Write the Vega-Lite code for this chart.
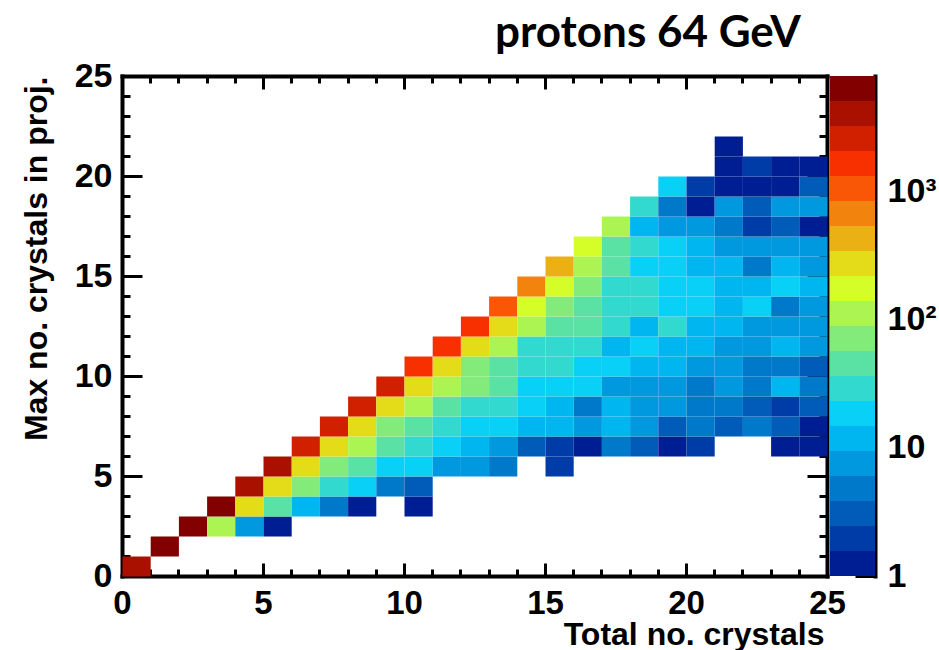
{
  "$schema": "https://vega.github.io/schema/vega-lite/v6.json",
  "background": "white",
  "padding": {"left": 20, "top": 12, "right": 0, "bottom": 0},
  "title": {"text": "protons 64 GeV", "font": "Lato", "fontSize": 44, "fontWeight": "bold", "color": "black", "anchor": "start", "frame": "group", "dx": 373, "baseline": "alphabetic", "offset": -32},
  "datasets": {
    "hist": [
      {"x":0,"y":0,"count":4050},
      {"x":1,"y":1,"count":6350},
      {"x":2,"y":2,"count":6350},{"x":3,"y":2,"count":112},{"x":4,"y":2,"count":7},{"x":5,"y":2,"count":1},
      {"x":3,"y":3,"count":6350},{"x":4,"y":3,"count":274},{"x":5,"y":3,"count":45},{"x":6,"y":3,"count":12},{"x":7,"y":3,"count":5},{"x":8,"y":3,"count":1},{"x":10,"y":3,"count":1},
      {"x":4,"y":4,"count":4050},{"x":5,"y":4,"count":274},{"x":6,"y":4,"count":71},{"x":7,"y":4,"count":29},{"x":8,"y":4,"count":18},{"x":9,"y":4,"count":5},{"x":10,"y":4,"count":3},
      {"x":5,"y":5,"count":4050},{"x":6,"y":5,"count":274},{"x":7,"y":5,"count":71},{"x":8,"y":5,"count":45},{"x":9,"y":5,"count":18},{"x":10,"y":5,"count":18},{"x":11,"y":5,"count":7},{"x":12,"y":5,"count":7},{"x":13,"y":5,"count":5},{"x":15,"y":5,"count":2},
      {"x":6,"y":6,"count":2600},{"x":7,"y":6,"count":274},{"x":8,"y":6,"count":112},{"x":9,"y":6,"count":45},{"x":10,"y":6,"count":29},{"x":11,"y":6,"count":18},{"x":12,"y":6,"count":12},{"x":13,"y":6,"count":7},{"x":14,"y":6,"count":3},{"x":15,"y":6,"count":2},{"x":16,"y":6,"count":1},{"x":17,"y":6,"count":5},{"x":18,"y":6,"count":3},{"x":19,"y":6,"count":1},{"x":20,"y":6,"count":2},{"x":23,"y":6,"count":1},{"x":24,"y":6,"count":1},
      {"x":7,"y":7,"count":2600},{"x":8,"y":7,"count":274},{"x":9,"y":7,"count":71},{"x":10,"y":7,"count":45},{"x":11,"y":7,"count":29},{"x":12,"y":7,"count":18},{"x":13,"y":7,"count":18},{"x":14,"y":7,"count":12},{"x":15,"y":7,"count":12},{"x":16,"y":7,"count":7},{"x":17,"y":7,"count":12},{"x":18,"y":7,"count":7},{"x":19,"y":7,"count":3},{"x":20,"y":7,"count":5},{"x":21,"y":7,"count":3},{"x":22,"y":7,"count":5},{"x":23,"y":7,"count":3},{"x":24,"y":7,"count":1},
      {"x":8,"y":8,"count":2600},{"x":9,"y":8,"count":274},{"x":10,"y":8,"count":112},{"x":11,"y":8,"count":45},{"x":12,"y":8,"count":29},{"x":13,"y":8,"count":29},{"x":14,"y":8,"count":18},{"x":15,"y":8,"count":12},{"x":16,"y":8,"count":5},{"x":17,"y":8,"count":12},{"x":18,"y":8,"count":7},{"x":19,"y":8,"count":7},{"x":20,"y":8,"count":5},{"x":21,"y":8,"count":5},{"x":22,"y":8,"count":3},{"x":23,"y":8,"count":2},{"x":24,"y":8,"count":3},
      {"x":9,"y":9,"count":2600},{"x":10,"y":9,"count":274},{"x":11,"y":9,"count":112},{"x":12,"y":9,"count":71},{"x":13,"y":9,"count":45},{"x":14,"y":9,"count":18},{"x":15,"y":9,"count":18},{"x":16,"y":9,"count":18},{"x":17,"y":9,"count":7},{"x":18,"y":9,"count":7},{"x":19,"y":9,"count":7},{"x":20,"y":9,"count":5},{"x":21,"y":9,"count":7},{"x":22,"y":9,"count":5},{"x":23,"y":9,"count":12},{"x":24,"y":9,"count":5},
      {"x":10,"y":10,"count":1650},{"x":11,"y":10,"count":274},{"x":12,"y":10,"count":71},{"x":13,"y":10,"count":45},{"x":14,"y":10,"count":29},{"x":15,"y":10,"count":29},{"x":16,"y":10,"count":18},{"x":17,"y":10,"count":18},{"x":18,"y":10,"count":12},{"x":19,"y":10,"count":12},{"x":20,"y":10,"count":7},{"x":21,"y":10,"count":7},{"x":22,"y":10,"count":5},{"x":23,"y":10,"count":5},{"x":24,"y":10,"count":3},
      {"x":11,"y":11,"count":1650},{"x":12,"y":11,"count":274},{"x":13,"y":11,"count":112},{"x":14,"y":11,"count":29},{"x":15,"y":11,"count":29},{"x":16,"y":11,"count":29},{"x":17,"y":11,"count":12},{"x":18,"y":11,"count":18},{"x":19,"y":11,"count":12},{"x":20,"y":11,"count":12},{"x":21,"y":11,"count":7},{"x":22,"y":11,"count":7},{"x":23,"y":11,"count":12},{"x":24,"y":11,"count":7},
      {"x":12,"y":12,"count":1650},{"x":13,"y":12,"count":274},{"x":14,"y":12,"count":112},{"x":15,"y":12,"count":45},{"x":16,"y":12,"count":45},{"x":17,"y":12,"count":29},{"x":18,"y":12,"count":12},{"x":19,"y":12,"count":29},{"x":20,"y":12,"count":12},{"x":21,"y":12,"count":12},{"x":22,"y":12,"count":7},{"x":23,"y":12,"count":7},{"x":24,"y":12,"count":7},
      {"x":13,"y":13,"count":1050},{"x":14,"y":13,"count":175},{"x":15,"y":13,"count":71},{"x":16,"y":13,"count":45},{"x":17,"y":13,"count":29},{"x":18,"y":13,"count":29},{"x":19,"y":13,"count":18},{"x":20,"y":13,"count":18},{"x":21,"y":13,"count":12},{"x":22,"y":13,"count":18},{"x":23,"y":13,"count":5},{"x":24,"y":13,"count":7},
      {"x":14,"y":14,"count":672},{"x":15,"y":14,"count":175},{"x":16,"y":14,"count":71},{"x":17,"y":14,"count":29},{"x":18,"y":14,"count":29},{"x":19,"y":14,"count":18},{"x":20,"y":14,"count":18},{"x":21,"y":14,"count":12},{"x":22,"y":14,"count":12},{"x":23,"y":14,"count":18},{"x":24,"y":14,"count":12},
      {"x":15,"y":15,"count":430},{"x":16,"y":15,"count":112},{"x":17,"y":15,"count":45},{"x":18,"y":15,"count":18},{"x":19,"y":15,"count":18},{"x":20,"y":15,"count":12},{"x":21,"y":15,"count":12},{"x":22,"y":15,"count":5},{"x":23,"y":15,"count":12},{"x":24,"y":15,"count":7},
      {"x":16,"y":16,"count":175},{"x":17,"y":16,"count":45},{"x":18,"y":16,"count":29},{"x":19,"y":16,"count":18},{"x":20,"y":16,"count":12},{"x":21,"y":16,"count":7},{"x":22,"y":16,"count":7},{"x":23,"y":16,"count":7},{"x":24,"y":16,"count":7},
      {"x":17,"y":17,"count":112},{"x":18,"y":17,"count":12},{"x":19,"y":17,"count":7},{"x":20,"y":17,"count":7},{"x":21,"y":17,"count":5},{"x":22,"y":17,"count":2},{"x":23,"y":17,"count":3},{"x":24,"y":17,"count":1},
      {"x":18,"y":18,"count":29},{"x":19,"y":18,"count":5},{"x":20,"y":18,"count":1},{"x":21,"y":18,"count":7},{"x":22,"y":18,"count":3},{"x":23,"y":18,"count":7},{"x":24,"y":18,"count":7},
      {"x":19,"y":19,"count":18},{"x":20,"y":19,"count":2},{"x":21,"y":19,"count":1},{"x":22,"y":19,"count":1},{"x":23,"y":19,"count":1},{"x":24,"y":19,"count":3},
      {"x":21,"y":20,"count":1},{"x":22,"y":20,"count":2},{"x":23,"y":20,"count":1},{"x":24,"y":20,"count":1},
      {"x":21,"y":21,"count":1}
    ],
    "bar": [
      {"count":1,"hi":1.567},{"count":1.567,"hi":2.455},{"count":2.455,"hi":3.846},{"count":3.846,"hi":6.026},{"count":6.026,"hi":9.441},
      {"count":9.441,"hi":14.79},{"count":14.79,"hi":23.17},{"count":23.17,"hi":36.31},{"count":36.31,"hi":56.89},{"count":56.89,"hi":89.13},
      {"count":89.13,"hi":139.6},{"count":139.6,"hi":218.8},{"count":218.8,"hi":342.8},{"count":342.8,"hi":537},{"count":537,"hi":841.4},
      {"count":841.4,"hi":1318},{"count":1318,"hi":2065},{"count":2065,"hi":3236},{"count":3236,"hi":5070},{"count":5070,"hi":7943}
    ]
  },
  "spacing": 3,
  "bounds": "flush",
  "hconcat": [
    {
      "width": 705,
      "height": 500,
      "data": {"name": "hist"},
      "layer": [
        {
          "mark": {"type": "rect", "binSpacing": 0},
          "encoding": {
            "x": {"field": "x", "type": "quantitative", "bin": {"step": 1, "extent": [0, 25]}, "scale": {"domain": [0, 25], "nice": false, "zero": false},
                  "axis": {"orient": "bottom", "values": [0, 5, 10, 15, 20, 25], "tickSize": -13, "labelPadding": 24, "labelFontSize": 33, "format": "d",
                           "title": "Total no. crystals", "titleAnchor": "end", "titleAlign": "right", "titleX": 702, "titleY": 68, "titleBaseline": "alphabetic"}},
            "y": {"field": "y", "type": "quantitative", "bin": {"step": 1, "extent": [0, 25]}, "scale": {"domain": [0, 25], "nice": false, "zero": false},
                  "axis": {"orient": "left", "values": [0, 5, 10, 15, 20, 25], "tickSize": -20, "labelPadding": 30, "format": "d",
                           "title": "Max no. crystals in proj.", "titleAnchor": "end", "titleAlign": "right", "titleAngle": 270, "titleX": -76, "titleY": 0, "titleBaseline": "alphabetic"}},
            "color": {"field": "count", "type": "quantitative", "legend": null,
                      "scale": {"type": "threshold",
                                "domain": [1.567, 2.455, 3.846, 6.026, 9.441, 14.79, 23.17, 36.31, 56.89, 89.13, 139.6, 218.8, 342.8, 537, 841.4, 1318, 2065, 3236, 5070],
                                "range": ["#001e94", "#003ca7", "#005bb9", "#0079cb", "#0098de", "#00b6f0", "#08d0f7", "#31d9ce", "#5ae2a4", "#83eb7a", "#acf451", "#d5fd27", "#e4dc19", "#ebb013", "#f2830c", "#f95705", "#f83000", "#d12000", "#aa1000", "#820000"]}}
          }
        },
        {
          "mark": {"type": "rect", "opacity": 0, "binSpacing": 0},
          "encoding": {
            "x": {"field": "x", "type": "quantitative", "bin": {"step": 1, "extent": [0, 25]}, "scale": {"domain": [0, 25], "nice": false, "zero": false},
                  "axis": {"orient": "bottom", "values": [0,1,2,3,4,5,6,7,8,9,10,11,12,13,14,15,16,17,18,19,20,21,22,23,24,25], "tickSize": -7, "labels": false, "domain": false, "title": null}},
            "y": {"field": "y", "type": "quantitative", "bin": {"step": 1, "extent": [0, 25]}, "scale": {"domain": [0, 25], "nice": false, "zero": false},
                  "axis": {"orient": "left", "values": [0,1,2,3,4,5,6,7,8,9,10,11,12,13,14,15,16,17,18,19,20,21,22,23,24,25], "tickSize": -8, "labels": false, "domain": false, "title": null}}
          }
        },
        {
          "mark": {"type": "rect", "opacity": 0, "binSpacing": 0},
          "encoding": {
            "x": {"field": "x", "type": "quantitative", "bin": {"step": 1, "extent": [0, 25]}, "scale": {"domain": [0, 25], "nice": false, "zero": false},
                  "axis": {"orient": "top", "values": [0, 5, 10, 15, 20, 25], "tickSize": -13, "labels": false, "title": null}},
            "y": {"field": "y", "type": "quantitative", "bin": {"step": 1, "extent": [0, 25]}, "scale": {"domain": [0, 25], "nice": false, "zero": false},
                  "axis": {"orient": "right", "values": [0, 5, 10, 15, 20, 25], "tickSize": -20, "labels": false, "title": null}}
          }
        },
        {
          "mark": {"type": "rect", "opacity": 0, "binSpacing": 0},
          "encoding": {
            "x": {"field": "x", "type": "quantitative", "bin": {"step": 1, "extent": [0, 25]}, "scale": {"domain": [0, 25], "nice": false, "zero": false},
                  "axis": {"orient": "top", "values": [0,1,2,3,4,5,6,7,8,9,10,11,12,13,14,15,16,17,18,19,20,21,22,23,24,25], "tickSize": -7, "labels": false, "domain": false, "title": null}},
            "y": {"field": "y", "type": "quantitative", "bin": {"step": 1, "extent": [0, 25]}, "scale": {"domain": [0, 25], "nice": false, "zero": false},
                  "axis": {"orient": "right", "values": [0,1,2,3,4,5,6,7,8,9,10,11,12,13,14,15,16,17,18,19,20,21,22,23,24,25], "tickSize": -8, "labels": false, "domain": false, "title": null}}
          }
        }
      ],
      "resolve": {"axis": {"x": "independent", "y": "independent"}}
    },
    {
      "width": 45,
      "height": 500,
      "data": {"name": "bar"},
      "layer": [
        {
          "mark": {"type": "rect"},
          "encoding": {
            "x": {"datum": 0, "type": "quantitative", "scale": {"domain": [0, 1], "nice": false, "zero": false}, "axis": null},
            "x2": {"datum": 1},
            "y": {"field": "count", "type": "quantitative", "scale": {"type": "log", "domain": [1, 7943], "nice": false},
                  "axis": {"orient": "right", "values": [1, 10, 100, 1000], "tickSize": -20, "labelPadding": 32, "title": null,
                           "labelExpr": "datum.value == 1 ? '1' : datum.value == 10 ? '10' : datum.value == 100 ? '10²' : '10³'"}},
            "y2": {"field": "hi"},
            "color": {"field": "count", "type": "quantitative", "legend": null,
                      "scale": {"type": "threshold",
                                "domain": [1.567, 2.455, 3.846, 6.026, 9.441, 14.79, 23.17, 36.31, 56.89, 89.13, 139.6, 218.8, 342.8, 537, 841.4, 1318, 2065, 3236, 5070],
                                "range": ["#001e94", "#003ca7", "#005bb9", "#0079cb", "#0098de", "#00b6f0", "#08d0f7", "#31d9ce", "#5ae2a4", "#83eb7a", "#acf451", "#d5fd27", "#e4dc19", "#ebb013", "#f2830c", "#f95705", "#f83000", "#d12000", "#aa1000", "#820000"]}}
          }
        },
        {
          "mark": {"type": "rect", "opacity": 0},
          "encoding": {
            "x": {"datum": 0, "type": "quantitative", "scale": {"domain": [0, 1], "nice": false, "zero": false}, "axis": null},
            "x2": {"datum": 1},
            "y": {"field": "count", "type": "quantitative", "scale": {"type": "log", "domain": [1, 7943], "nice": false},
                  "axis": {"orient": "right", "values": [2,3,4,5,6,7,8,9,20,30,40,50,60,70,80,90,200,300,400,500,600,700,800,900,2000,3000,4000,5000,6000,7000], "tickSize": -9, "labels": false, "domain": false, "title": null}},
            "y2": {"field": "hi"}
          }
        }
      ],
      "resolve": {"axis": {"y": "independent"}}
    }
  ],
  "config": {
    "view": {"stroke": null},
    "axis": {
      "grid": false, "zindex": 1,
      "tickColor": "black", "tickWidth": 3,
      "domainColor": "black", "domainWidth": 4, "domainCap": "square",
      "labelFont": "Liberation Sans", "labelFontSize": 34, "labelFontWeight": "bold", "labelColor": "black",
      "titleFont": "Liberation Sans", "titleFontSize": 32, "titleFontWeight": "bold", "titleColor": "black",
      "labelFlush": false, "labelOverlap": false, "labelBound": false
    }
  }
}
